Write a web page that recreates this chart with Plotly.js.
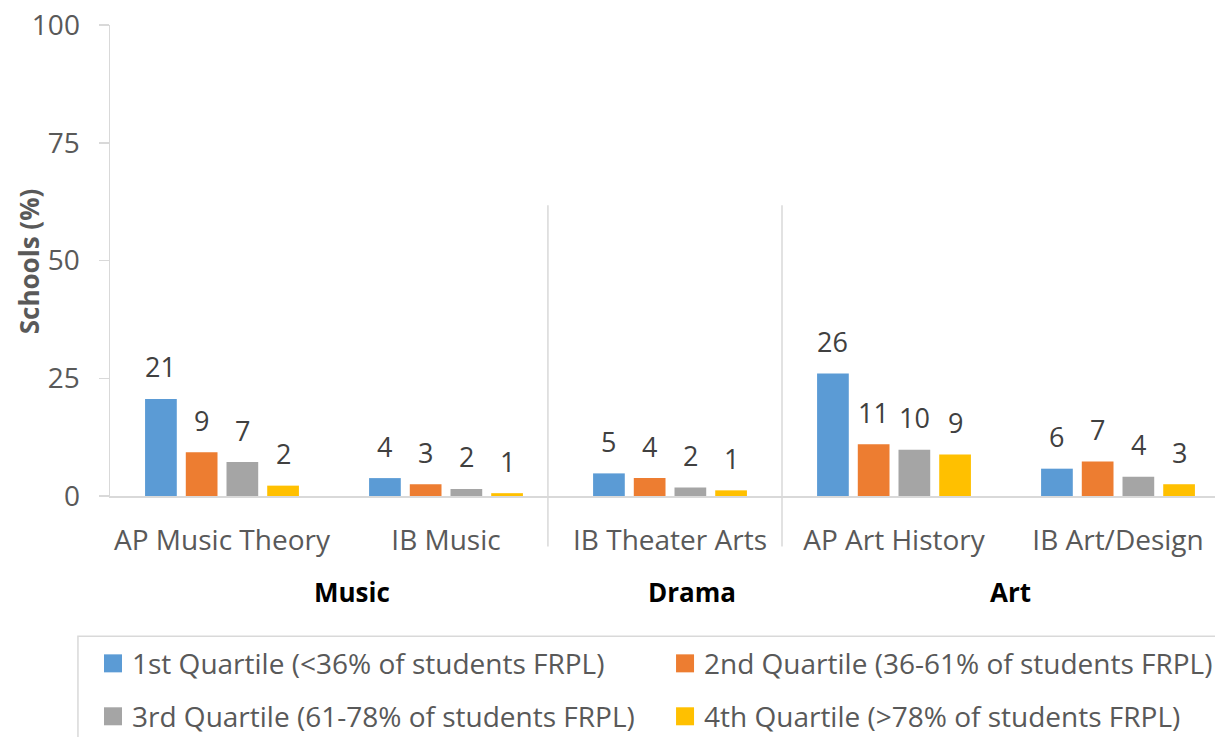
<!DOCTYPE html>
<html>
<head>
<meta charset="utf-8">
<script src="https://cdn.plot.ly/plotly-3.0.1.min.js"></script>
<style>html,body{margin:0;padding:0;background:#fff;}#chart{width:1215px;height:737px;}</style>
</head>
<body>
<div id="chart"></div>
<script>
// ---- data ----
const categories = ["AP Music Theory", "IB Music", "IB Theater Arts", "AP Art History", "IB Art/Design"];
const seriesNames = [
  "1st Quartile (<36% of students FRPL)",
  "2nd Quartile (36-61% of students FRPL)",
  "3rd Quartile (61-78% of students FRPL)",
  "4th Quartile (>78% of students FRPL)"
];
const q1Values = [20.6, 3.8, 4.8, 26.0, 5.8];
const q2Values = [9.3, 2.5, 3.8, 11.0, 7.3];
const q3Values = [7.2, 1.5, 1.8, 9.8, 4.1];
const q4Values = [2.2, 0.6, 1.2, 8.8, 2.5];
const q1Labels = ["21", "4", "5", "26", "6"];
const q2Labels = ["9", "3", "4", "11", "7"];
const q3Labels = ["7", "2", "2", "10", "4"];
const q4Labels = ["2", "1", "1", "9", "3"];
const groupNames = ["Music", "Drama", "Art"];
const yTickVals = [0, 25, 50, 75, 100];
const colors = ["#5B9BD5", "#ED7D31", "#A5A5A5", "#FFC000"];

const allValues = [q1Values, q2Values, q3Values, q4Values];
const allLabels = [q1Labels, q2Labels, q3Labels, q4Labels];

const FONT = "Open Sans, Noto Sans, sans-serif";

const traces = allValues.map((vals, i) => ({
  type: "bar",
  name: seriesNames[i],
  x: categories,
  y: vals,
  marker: {color: colors[i]},
  hoverinfo: "x+y+name"
}));

const annotations = [];
// data labels
const slot = 40.7;
allValues.forEach((vals, i) => {
  vals.forEach((v, j) => {
    annotations.push({
      x: categories[j], y: v, xref: "x", yref: "y",
      xshift: (i - 1.5) * slot, yshift: 32,
      text: allLabels[i][j], showarrow: false,
      xanchor: "center", yanchor: "middle",
      font: {family: FONT, size: 27, color: "#404040"}
    });
  });
});
// y title
annotations.push({
  xref: "paper", yref: "paper", x: 0, y: 0.4984, xshift: -81,
  text: "<b>Schools (%)</b>", textangle: -90, showarrow: false,
  xanchor: "center", yanchor: "middle",
  font: {family: FONT, size: 26, color: "#595959"}
});
// group labels
const groupPos = [0.58, 2.1, 3.518];
groupNames.forEach((g, k) => {
  annotations.push({
    xref: "x", yref: "paper", x: groupPos[k], y: -0.2047,
    text: "<b>" + g + "</b>", showarrow: false,
    xanchor: "center", yanchor: "middle",
    font: {family: FONT, size: 26, color: "#000000"}
  });
});

const shapes = [];
// separators
[1.455, 2.5].forEach(xv => {
  shapes.push({type: "line", xref: "x", yref: "paper", x0: xv, x1: xv, y0: -0.1071, y1: 0.6172,
    line: {color: "#d9d9d9", width: 1.5}});
});
// legend box
shapes.push({type: "rect", xref: "paper", yref: "paper", x0: -0.029, x1: 1.05, y0: -0.7, y1: -0.298,
  line: {color: "#d9d9d9", width: 1.5}, fillcolor: "rgba(0,0,0,0)"});
// legend items
const legCols = [0.0181, 0.5357];
const legMarkCols = [0.00271, 0.5204];
const legRows = [-0.3553, -0.4677];
seriesNames.forEach((n, i) => {
  const c = i % 2, r = Math.floor(i / 2);
  shapes.push({type: "rect", xref: "paper", yref: "paper",
    xsizemode: "pixel", ysizemode: "pixel",
    xanchor: legMarkCols[c], yanchor: legRows[r],
    x0: -9, x1: 9, y0: -9, y1: 9,
    line: {width: 0}, fillcolor: colors[i]});
  annotations.push({
    xref: "paper", yref: "paper", x: legCols[c], y: legRows[r],
    text: n, showarrow: false, xanchor: "left", yanchor: "middle",
    font: {family: FONT, size: 28, color: "#595959"}
  });
});

const layout = {
  width: 1215, height: 737,
  margin: {l: 110, r: 0, t: 25, b: 240.5, pad: 0},
  paper_bgcolor: "#ffffff", plot_bgcolor: "#ffffff",
  showlegend: false,
  barmode: "group", bargap: 0.273, bargroupgap: 0.221,
  font: {family: FONT, color: "#595959"},
  xaxis: {
    type: "category", range: [-0.5, 4.433],
    showline: true, linecolor: "#d9d9d9", linewidth: 1.5,
    ticks: "", showgrid: false, zeroline: false,
    tickfont: {family: FONT, size: 28, color: "#595959"},
    ticklabelstandoff: 19, fixedrange: true
  },
  yaxis: {
    range: [0, 100], tickvals: yTickVals, ticktext: yTickVals.map(String),
    showline: true, linecolor: "#d9d9d9", linewidth: 1.5,
    ticks: "outside", ticklen: 10, tickcolor: "#d9d9d9", tickwidth: 1.5,
    showgrid: false, zeroline: false,
    tickfont: {family: FONT, size: 28, color: "#595959"},
    ticklabelstandoff: 13, fixedrange: true
  },
  annotations: annotations,
  shapes: shapes
};

Plotly.newPlot("chart", traces, layout, {displayModeBar: false, staticPlot: true});
</script>
</body>
</html>
